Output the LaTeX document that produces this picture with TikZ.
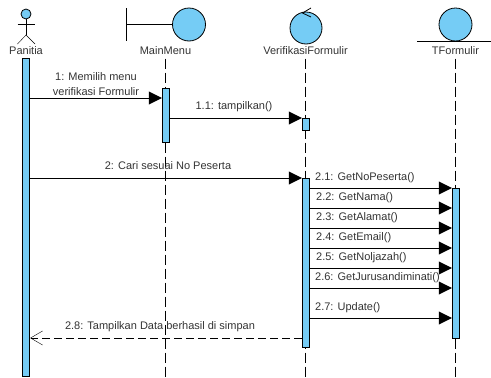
\documentclass[tikz,border=0pt]{standalone}
\usepackage{fontspec}
\setmainfont{Liberation Sans}
\usetikzlibrary{positioning}
\usetikzlibrary{arrows.meta}
\definecolor{barblue}{RGB}{117,204,245}

\begin{document}
\begin{tikzpicture}[x=1pt,y=-1pt,font=\fontsize{11}{15}\selectfont,text=black!80]
\tikzstyle{bar} = [rectangle, draw, thick, fill=barblue, minimum width=7.5pt, inner sep=0pt, anchor=north]
\tikzstyle{icon} = [circle, draw, thick, fill=barblue, inner sep=0pt]
\tikzstyle{life} = [draw, dash pattern=on 10pt off 4pt]
\tikzstyle{arrow} = [draw, -{Triangle[length=13pt,width=13pt]}]
\tikzstyle{back} = [draw, dash pattern=on 8pt off 4pt, -{Straight Barb[length=12pt,width=14pt]}]
\tikzstyle{label} = [inner sep=0pt, anchor=base]

\useasboundingbox (0,0) rectangle (491,378);

% heads
\node (panitia) at (26,51) {Panitia};
\node (mainmenu) [right of=panitia, node distance=139.5pt] {MainMenu};
\node (verifikasi) [right of=mainmenu, node distance=140pt] {VerifikasiFormulir};
\node (tformulir) [right of=verifikasi, node distance=150pt] {TFormulir};

\coordinate (mainmenuend) at (165.5,378);
\coordinate (verifikasiend) at (305.5,378);
\coordinate (tformulirend) at (455.5,378);

% lifelines
\draw [life] (mainmenu) -- (mainmenuend);
\draw [life] (verifikasi) -- (verifikasiend);
\draw [life] (tformulir) -- (tformulirend);

% actor
\node (head) [icon, minimum size=10pt] at (26,14) {};
\coordinate (hip) at (26,35);
\coordinate (armL) at (17.5,24);
\coordinate (armR) at (35,24);
\coordinate (legL) at (17.5,44);
\coordinate (legR) at (35,44);
\draw (head) -- (hip);
\draw (armL) -- (armR);
\draw (legL) -- (hip) -- (legR);

% boundary
\node (mainicon) [icon, minimum size=33pt] at (189,24.5) {};
\coordinate (wallT) at (126,8);
\coordinate (wallB) at (126,41);
\coordinate (wallM) at (126,24.5);
\draw [thick] (wallT) -- (wallB);
\draw [thick] (wallM) -- (mainicon);

% control
\node (verificon) [icon, minimum size=32pt] at (306,28) {};
\coordinate (tickM) at (302.5,13);
\coordinate (tickA) at (311,8);
\coordinate (tickB) at (311,17);
\draw [thick] (tickA) -- (tickM) -- (tickB);

% entity
\node (ticon) [icon, minimum size=33pt] at (455.5,24.5) {};
\coordinate (floorL) at (417,41);
\coordinate (floorR) at (491,41);
\draw [thick] (floorL) -- (floorR);

% activations
\node (panitiabar) [bar, minimum height=318pt] at (26,58) {};
\node (mainbar) [bar, minimum height=54pt] at (166,88) {};
\node (verifbar) [bar, minimum height=12pt] at (306,118) {};
\node (verifbarb) [bar, minimum height=169pt] at (306,178) {};
\node (tbar) [bar, minimum height=150pt] at (456,188) {};

% messages
\draw [arrow] (panitiabar.east |- 0,98) -- (mainbar.west |- 0,98);
\node (m1) [label, anchor=center, align=center] at (96,84) {1: Memilih menu\\verifikasi Formulir};
\draw [arrow] (mainbar.east |- 0,118) -- (verifbar.west |- 0,118);
\node (m11) [label] at (234,109) {1.1: tampilkan()};
\draw [arrow] (panitiabar.east |- 0,178) -- (verifbarb.west |- 0,178);
\node (m2) [label] at (168,169) {2: Cari sesuai No Peserta};

\foreach \name/\ypos/\xpos/\txt in {a/188/315/2.1: GetNoPeserta(), b/208/316/2.2: GetNama(), c/228/316/2.3: GetAlamat(), d/248/316/2.4: GetEmail(), e/268/316/2.5: GetNoljazah(), f/288/315/2.6: GetJurusandiminati(), g/318/315/2.7: Update()}
{
  \draw [arrow] (verifbarb.east |- 0,\ypos) -- (tbar.west |- 0,\ypos);
  \node (lab\name) [label, anchor=base west] at (\xpos,\ypos-8) {\txt};
}

\draw [back] (verifbarb.west |- 0,338) -- (panitiabar.east |- 0,338);
\node (m28) [label] at (160,329) {2.8: Tampilkan Data berhasil di simpan};
\end{tikzpicture}
\end{document}
